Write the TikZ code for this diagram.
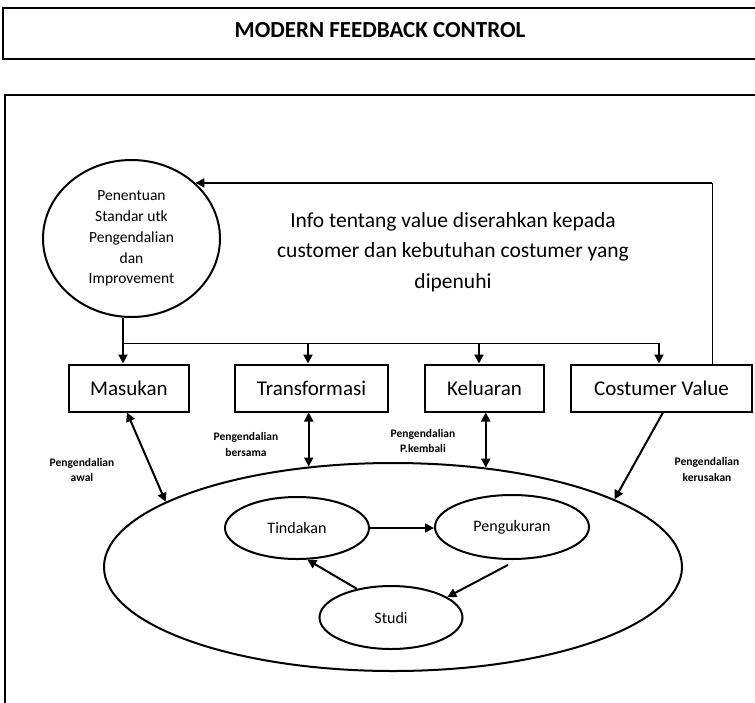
\documentclass[tikz,border=0pt]{standalone}
\usepackage{fontspec}
\setmainfont{Carlito}
\usetikzlibrary{arrows.meta,shapes.geometric}
\begin{document}
\begin{tikzpicture}[x=1pt,y=-1pt,
  box/.style={draw,line width=2pt,minimum height=47pt,inner sep=0pt,
    font=\fontsize{21}{25}\selectfont},
  oval/.style={draw,ellipse,line width=2pt,inner sep=0pt,
    font=\fontsize{16}{19}\selectfont},
  note/.style={font=\bfseries\fontsize{11.5}{15.5}\selectfont,align=center},
  tip/.style={-{Triangle[length=9pt,width=9pt]}},
  both/.style={{Triangle[length=9pt,width=9pt]}-{Triangle[length=9pt,width=9pt]}},
  heavy/.style={line width=2pt},
  thinline/.style={line width=1pt},
]
\useasboundingbox (0,0) rectangle (755,702);

% title box and outer frame (both run past the right and lower edge)
\begin{scope}
  \clip (0,0) rectangle (755,702);
  \draw[line width=2.5pt] (3,8) rectangle (762,59);
  \draw[line width=2.5pt] (5,95) rectangle (770,720);
\end{scope}
\node[font=\bfseries\fontsize{23}{27}\selectfont] (title) at (380,30) {MODERN FEEDBACK CONTROL};

% standard-setting circle
\node[oval, minimum width=177pt, minimum height=157pt, align=center,
  font=\fontsize{15.5}{20.8}\selectfont] (std) at (131.5,238.5)
  {Penentuan\\Standar utk\\Pengendalian\\dan\\Improvement};

% information text
\node[align=center, font=\fontsize{21.5}{30.5}\selectfont] (info) at (453,252)
  {Info tentang value diserahkan kepada\\customer dan kebutuhan costumer yang\\dipenuhi};

% process boxes
\node[box, minimum width=120pt] (mas) at (129,388) {Masukan};
\node[box, minimum width=153pt] (tra) at (311.5,388) {Transformasi};
\node[box, minimum width=119pt] (kel) at (484.5,388) {Keluaran};
\node[box, minimum width=181pt] (cv) at (661.5,388) {Costumer Value};

% control cycle
\node[oval, minimum width=578pt, minimum height=208pt] (proc) at (393,567) {};
\node[oval, minimum width=144pt, minimum height=62pt] (tin) at (297,528) {Tindakan};
\node[oval, minimum width=154pt, minimum height=64pt] (pen) at (512,527) {Pengukuran};
\node[oval, minimum width=143pt, minimum height=63pt] (stu) at (391,617.5) {Studi};

% distribution bus
\coordinate (bus) at (123,343);
\coordinate (bT) at (308,343);
\coordinate (bK) at (479,343);
\coordinate (bC) at (659,343);
\coordinate (fbx) at (712,183);

\draw[heavy, tip] (bus |- std.south) -- (bus |- mas.north);
\draw[thinline] (bus) -- (bC);
\draw[heavy, tip] (bT) -- (bT |- tra.north);
\draw[heavy, tip] (bK) -- (bK |- kel.north);
\draw[heavy, tip] (bC) -- (bC |- cv.north);

% feedback to the standard
\draw[thinline] (fbx |- cv.north) -- (fbx |- std.41);
\draw[heavy, tip] (fbx |- std.41) -- (std.41);

% controls between boxes and the cycle
\draw[heavy, both] ([xshift=-2pt]mas.south) -- (proc.164.7);
\draw[heavy, both] (proc.130.5 |- tra.south) -- (proc.130.5);
\draw[heavy, both] (proc.47.7 |- kel.south) -- (proc.47.7);
\draw[heavy, tip] ([xshift=1.5pt]cv.south) -- (proc.17.6);

\node[note] (l1) at (82,470) {Pengendalian\\awal};
\node[note] (l2) at (246,444.5) {Pengendalian\\bersama};
\node[note] (l3) at (423,441) {Pengendalian\\P.kembali};
\node[note] (l4) at (707,469.5) {Pengendalian\\kerusakan};

% inner cycle arrows
\draw[line width=1.4pt, tip] (tin.east) -- (tin.east -| pen.west);
\draw[heavy, tip] ([yshift=-5pt]pen.-97) -- (stu.20);
\draw[heavy, tip] (stu.140) -- (tin.-72);
\end{tikzpicture}
\end{document}
